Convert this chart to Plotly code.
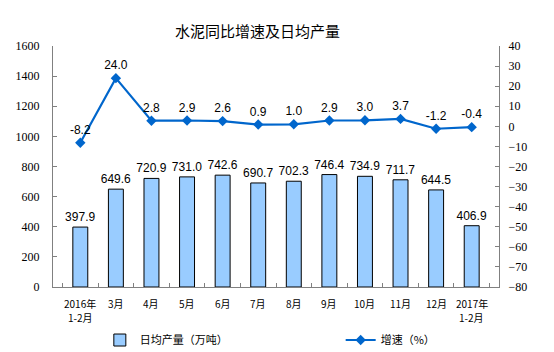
import plotly.graph_objects as go

categories = ["2016年<br>1-2月", "3月", "4月", "5月", "6月", "7月", "8月", "9月", "10月", "11月", "12月", "2017年<br>1-2月"]
daily_output = [397.9, 649.6, 720.9, 731.0, 742.6, 690.7, 702.3, 746.4, 734.9, 711.7, 644.5, 406.9]
growth = [-8.2, 24.0, 2.8, 2.9, 2.6, 0.9, 1.0, 2.9, 3.0, 3.7, -1.2, -0.4]

fig = go.Figure()
fig.add_trace(go.Bar(
    x=categories, y=daily_output, name="日均产量（万吨）",
    marker=dict(color="#99CCFF", line=dict(color="#000000", width=1)),
    width=0.42,
    text=[f"{v:.1f}" for v in daily_output], textposition="outside",
    constraintext="none",
    textfont=dict(family="Liberation Sans", size=12, color="#000000"),
    cliponaxis=False, legend="legend",
))
fig.add_trace(go.Scatter(
    x=categories, y=growth, name="增速（%）", yaxis="y2",
    mode="lines+markers+text",
    line=dict(color="#0066CC", width=2.2),
    marker=dict(symbol="diamond", size=8, color="#0066CC"),
    text=[f"{v:.1f}" for v in growth], textposition="top center",
    textfont=dict(family="Liberation Sans", size=12, color="#000000"),
    cliponaxis=False, legend="legend2",
))

# category labels drawn line by line to keep line spacing like the reference
for cat in categories:
    for i, part in enumerate(cat.split("<br>")):
        fig.add_annotation(
            x=cat, xref="x", y=0, yref="paper", yanchor="middle",
            yshift=-(16 + 14 * i), text=part, showarrow=False, borderpad=0,
            font=dict(family="Noto Sans CJK SC", size=10, color="#000000"),
        )

legend_font = dict(family="Noto Sans CJK SC", size=11, color="#000000")
fig.update_layout(
    width=554, height=352,
    margin=dict(l=53, r=55, t=46, b=65, autoexpand=False),
    paper_bgcolor="white", plot_bgcolor="white",
    title=dict(text="水泥同比增速及日均产量", x=0.465, xanchor="center", y=0.91, yanchor="middle",
               font=dict(family="Noto Sans CJK SC", size=15, color="#000000")),
    xaxis=dict(
        type="category", showline=True, linecolor="#808080", linewidth=1,
        ticks="inside", tickson="boundaries", ticklen=4, tickcolor="#808080",
        showticklabels=False, automargin=False, showgrid=False,
    ),
    yaxis=dict(
        range=[0, 1600], dtick=200, showline=True, linecolor="#808080", linewidth=1,
        ticks="inside", ticklen=4, tickcolor="#808080", showgrid=False, zeroline=False,
        automargin=False, ticklabelstandoff=10,
        tickfont=dict(family="Liberation Serif", size=12, color="#000000"),
    ),
    yaxis2=dict(
        range=[-80, 40], dtick=10, overlaying="y", side="right",
        showline=True, linecolor="#808080", linewidth=1, automargin=False,
        ticks="inside", ticklen=4, tickcolor="#808080", showgrid=False, zeroline=False,
        ticklabelstandoff=6,
        tickfont=dict(family="Liberation Serif", size=12, color="#000000"),
    ),
    legend=dict(orientation="h", x=0.105, xanchor="left", y=-0.22, yanchor="middle",
                font=legend_font, bgcolor="rgba(0,0,0,0)"),
    legend2=dict(orientation="h", x=0.645, xanchor="left", y=-0.22, yanchor="middle",
                 font=legend_font, bgcolor="rgba(0,0,0,0)"),
    showlegend=True,
)

fig.write_html("out.html")
